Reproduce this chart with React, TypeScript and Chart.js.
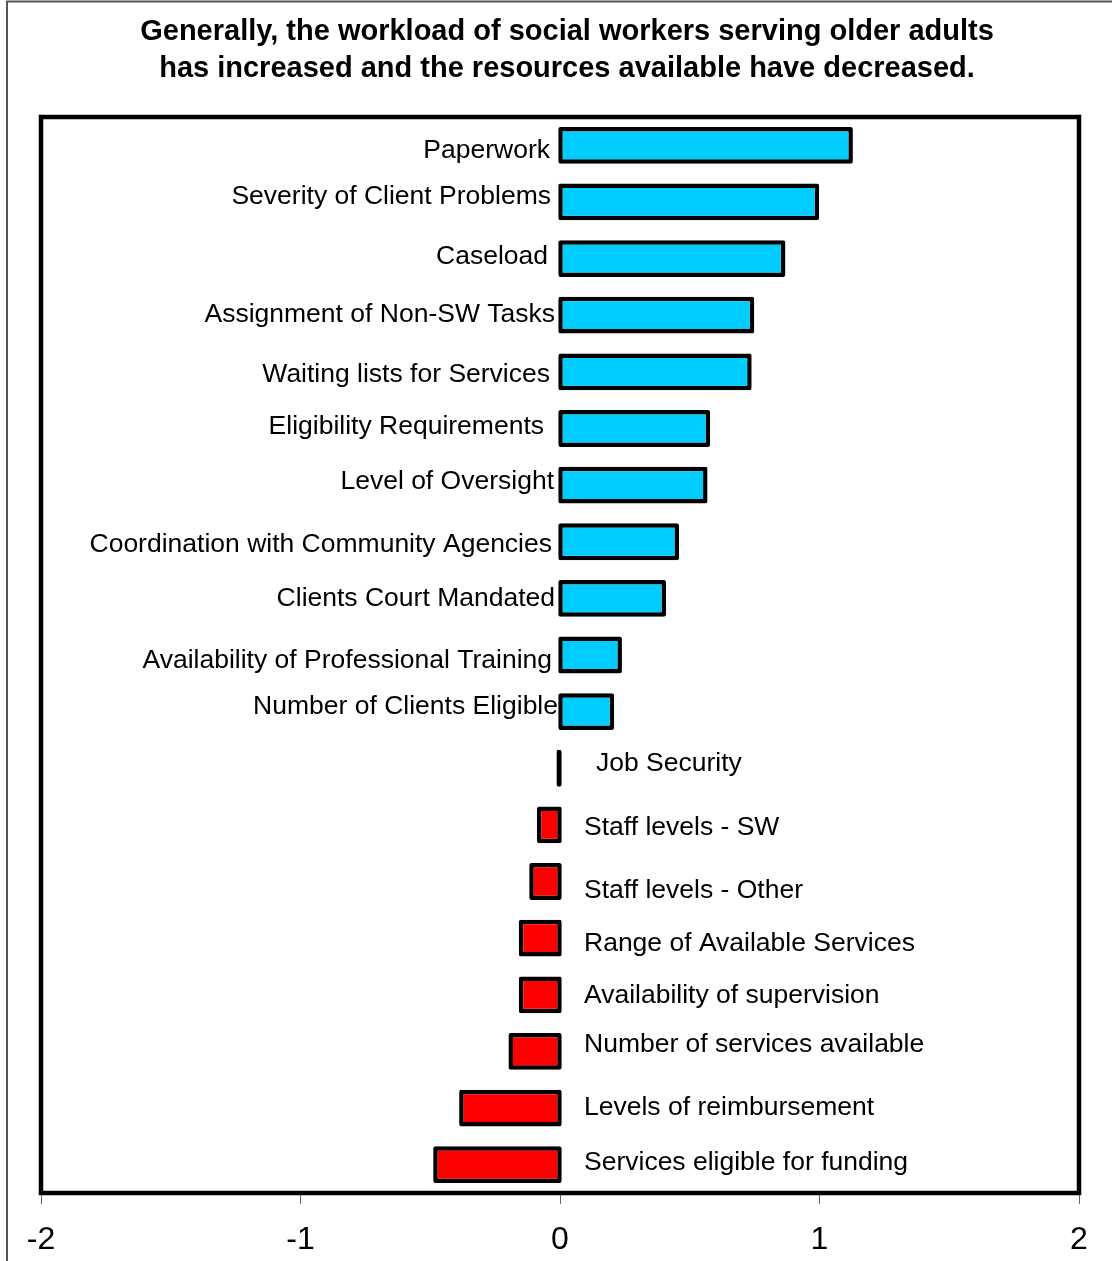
import React, { useEffect, useRef } from "react";
import { Chart, registerables } from "chart.js";

Chart.register(...registerables);

const titleLines = [
  "Generally, the workload of social workers serving older adults",
  "has increased and the resources available have decreased.",
];

const categories = [
  "Paperwork",
  "Severity of Client Problems",
  "Caseload",
  "Assignment of Non-SW Tasks",
  "Waiting lists for Services",
  "Eligibility Requirements",
  "Level of Oversight",
  "Coordination with Community Agencies",
  "Clients Court Mandated",
  "Availability of Professional Training",
  "Number of Clients Eligible",
  "Job Security",
  "Staff levels - SW",
  "Staff levels - Other",
  "Range of Available Services",
  "Availability of supervision",
  "Number of services available",
  "Levels of reimbursement",
  "Services eligible for funding",
];

const changeScores = [
  1.12, 0.99, 0.86, 0.74, 0.73, 0.57, 0.56, 0.45, 0.4, 0.23, 0.2,
  -0.005, -0.08, -0.11, -0.15, -0.15, -0.19, -0.38, -0.48,
];

const xTickValues = [-2, -1, 0, 1, 2];

// label layout nudges (pixels) to mimic the hand-placed labels of the original
const labelNudgeX = [-10, -9, -12, -5, -10, -16, -6, -8, -5, -8, -2, 36, 24, 24, 24, 24, 24, 24, 24];
const labelNudgeY = [3, -7, -4, -3, 1, -4, -6, 1, -2, 4, -7, -7, 1, 7, 3, -1, -9, -2, -4];

const FONT = '"Liberation Sans", Arial, sans-serif';
const POS_COLOR = "#00CCFF";
const NEG_COLOR = "#FF0000";
const BAR_BORDER = 4.5;

const decorPlugin = {
  id: "decor",
  afterDatasetsUpdate(chart: any) {
    // emulate a stroke centred on the bar outline (as in the original)
    const half = BAR_BORDER / 2;
    const meta = chart.getDatasetMeta(0);
    meta.data.forEach((bar: any) => {
      if (bar.x >= bar.base) {
        bar.x += half;
        bar.base -= half;
      } else {
        bar.x -= half;
        bar.base += half;
      }
    });
  },
  beforeDraw(chart: any) {
    const { ctx, width, height } = chart;
    ctx.save();
    ctx.fillStyle = "#ffffff";
    ctx.fillRect(0, 0, width, height);
    // outer frame
    ctx.strokeStyle = "#555555";
    ctx.lineWidth = 2;
    ctx.strokeRect(7, 1.5, width + 50, height + 50);
    // title
    ctx.fillStyle = "#000000";
    ctx.font = `bold 29px ${FONT}`;
    ctx.textAlign = "center";
    ctx.textBaseline = "alphabetic";
    ctx.fillText(titleLines[0], 567, 39.5);
    ctx.fillText(titleLines[1], 567, 76.5);
    ctx.restore();
  },
  afterDatasetsDraw(chart: any) {
    const { ctx, chartArea } = chart;
    const xScale = chart.scales.x;
    const zero = xScale.getPixelForValue(0);
    const meta = chart.getDatasetMeta(0);
    ctx.save();
    // plot area border
    ctx.strokeStyle = "#000000";
    ctx.lineWidth = 4.5;
    ctx.lineJoin = "miter";
    ctx.strokeRect(
      chartArea.left,
      chartArea.top,
      chartArea.right - chartArea.left,
      chartArea.bottom - chartArea.top
    );
    // data labels (category names)
    ctx.fillStyle = "#000000";
    ctx.font = `26.5px ${FONT}`;
    ctx.textBaseline = "alphabetic";
    meta.data.forEach((bar: any, i: number) => {
      const v = changeScores[i];
      const y = bar.y + labelNudgeY[i] + 9.4;
      ctx.textAlign = v >= 0 ? "right" : "left";
      ctx.fillText(categories[i], zero + labelNudgeX[i], y);
    });
    ctx.restore();
  },
};

export default function App() {
  const canvasRef = useRef<HTMLCanvasElement | null>(null);

  useEffect(() => {
    if (!canvasRef.current) return;
    const chart = new Chart(canvasRef.current, {
      type: "bar",
      data: {
        labels: categories,
        datasets: [
          {
            data: changeScores,
            backgroundColor: changeScores.map((v) => (v >= 0 ? POS_COLOR : NEG_COLOR)),
            borderColor: "#000000",
            borderWidth: BAR_BORDER,
            borderSkipped: false,
            borderRadius: 2,
            categoryPercentage: 1,
            barPercentage: 0.65,
          },
        ],
      },
      options: {
        indexAxis: "y",
        responsive: false,
        animation: false,
        layout: { padding: { left: 41, right: 33, top: 117, bottom: 0 } },
        plugins: {
          legend: { display: false },
          title: { display: false },
          tooltip: { enabled: false },
        },
        scales: {
          x: {
            min: -2,
            max: 2,
            afterFit: (s: any) => {
              s.height = 68;
            },
            afterBuildTicks: (s: any) => {
              s.ticks = xTickValues.map((v) => ({ value: v }));
            },
            ticks: {
              font: { family: FONT, size: 32 },
              color: "#000000",
              padding: 17,
              maxRotation: 0,
              callback: (v: any) => String(v),
            },
            grid: {
              drawOnChartArea: false,
              drawTicks: true,
              tickLength: 11,
              color: "#666666",
              lineWidth: 1,
            },
            border: { display: false },
          },
          y: {
            display: false,
          },
        },
      },
      plugins: [decorPlugin],
    });
    return () => chart.destroy();
  }, []);

  return (
    <div style={{ position: "absolute", left: 0, top: 0, width: 1112, height: 1261, background: "#fff" }}>
      <canvas ref={canvasRef} width={1112} height={1261} style={{ display: "block" }} />
    </div>
  );
}
